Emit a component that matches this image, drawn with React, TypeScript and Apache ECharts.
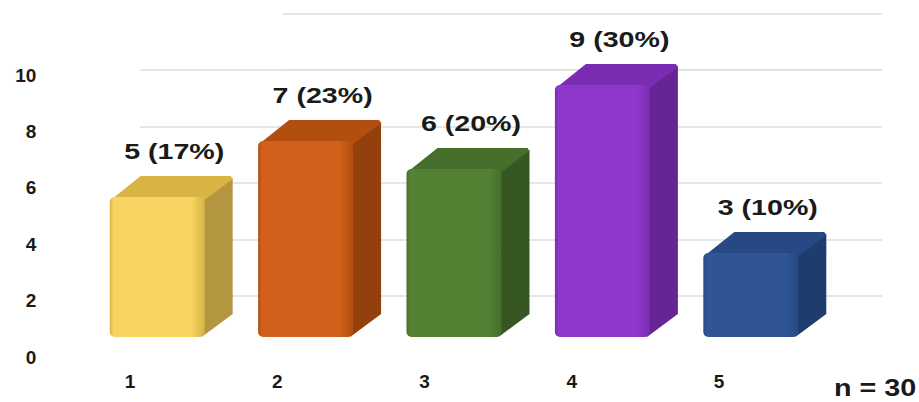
import React, { useEffect, useRef } from "react";
import * as echarts from "echarts";

const categories = ["1", "2", "3", "4", "5"];
const counts = [5, 7, 6, 9, 3];
const percents = [17, 23, 20, 30, 10];
const totalLabel = "n = 30";

const barColors = [
  { front: "#F8D462", top: "#D8B444", side: "#B59640" },
  { front: "#D0601A", top: "#B24E10", side: "#94400C" },
  { front: "#548235", top: "#466F2B", side: "#375722" },
  { front: "#8E39CC", top: "#7A2DB2", side: "#672495" },
  { front: "#2F5597", top: "#264985", side: "#1F3C6F" },
];

const DX = 28;
const DY = -21;
const FONT = '"Liberation Sans", Arial, sans-serif';

export default function App() {
  const ref = useRef<HTMLDivElement>(null);

  useEffect(() => {
    if (!ref.current) return;
    const chart = echarts.init(ref.current, undefined, { renderer: "svg" });

    const data = counts.map((v, i) => [i, v, percents[i]]);

    const renderItem = (params: any, api: any) => {
      const idx = api.value(0);
      const val = api.value(1);
      const pct = api.value(2);
      const top = api.coord([idx, val]);
      const base = api.coord([idx, 0]);
      const band = api.size([1, 0])[0];
      const w = band * 0.64;
      const x0 = top[0] - w / 2;
      const x1 = top[0] + w / 2;
      const yT = top[1];
      const yB = base[1];
      const c = barColors[idx];
      return {
        type: "group",
        children: [
          {
            type: "polygon",
            shape: {
              points: [
                [x1 - 3, yT + 2],
                [x1 + DX, yT + DY + 2],
                [x1 + DX, yB + DY - 2],
                [x1 - 3, yB],
              ],
            },
            style: { fill: c.side },
          },
          {
            type: "polygon",
            shape: {
              points: [
                [x0 + 1, yT + 3],
                [x0 + DX + 3, yT + DY],
                [x1 + DX - 2, yT + DY],
                [x1 + DX, yT + DY + 3],
                [x1, yT + 3],
              ],
            },
            style: { fill: c.top },
          },
          {
            type: "rect",
            shape: { x: x0, y: yT, width: w, height: yB - yT, r: 5 },
            style: {
              fill: {
                type: "linear",
                x: 0,
                y: 0,
                x2: 1,
                y2: 0,
                colorStops: [
                  { offset: 0, color: c.top },
                  { offset: 0.04, color: c.front },
                  { offset: 0.86, color: c.front },
                  { offset: 1, color: c.top },
                ],
              },
            },
          },
          {
            type: "text",
            x: top[0] + 17,
            y: yT + DY - 25,
            scaleX: 1.3,
            style: {
              text: `${val} (${pct}%)`,
              font: `bold 22px ${FONT}`,
              fill: "#1a1a1a",
              align: "center",
              verticalAlign: "middle",
            },
          },
        ],
      };
    };

    const gridLine = { show: true, lineStyle: { color: "#dedede", width: 1.5 } };

    chart.setOption({
      animation: false,
      grid: [
        { left: 83, right: 94, top: 1, bottom: 65 },
        { left: 56.4, right: 126.4, top: 75, bottom: 45 },
        { left: 140, right: 37, top: 70, bottom: 106 },
        { left: 283, right: 37, top: 13.5, bottom: 332 },
      ],
      xAxis: [
        { type: "category", gridIndex: 0, data: categories, show: false },
        {
          type: "category",
          gridIndex: 1,
          data: categories,
          axisLine: { show: false },
          axisTick: { show: false },
          axisLabel: {
            margin: 15,
            color: "#1a1a1a",
            fontFamily: FONT,
            fontWeight: "bold",
            fontSize: 19,
          },
        },
        { type: "value", gridIndex: 2, show: false, min: 0, max: 1 },
        { type: "value", gridIndex: 3, show: false, min: 0, max: 1 },
      ],
      yAxis: [
        { type: "value", gridIndex: 0, min: 0, max: 12, show: false, splitLine: { show: false } },
        {
          type: "value",
          gridIndex: 1,
          min: 0,
          max: 10,
          interval: 2,
          axisLine: { show: false },
          axisTick: { show: false },
          splitLine: { show: false },
          axisLabel: {
            margin: 20,
            color: "#1a1a1a",
            fontFamily: FONT,
            fontWeight: "bold",
            fontSize: 19,
          },
        },
        {
          type: "value",
          gridIndex: 2,
          min: 2,
          max: 10,
          interval: 2,
          axisLine: { show: false },
          axisTick: { show: false },
          axisLabel: { show: false },
          splitLine: gridLine,
        },
        {
          type: "value",
          gridIndex: 3,
          min: 10,
          max: 12,
          interval: 2,
          axisLine: { show: false },
          axisTick: { show: false },
          axisLabel: { show: false },
          splitLine: gridLine,
        },
      ],
      graphic: [
        {
          type: "text",
          left: 834,
          top: 377,
          scaleX: 1.25,
          style: {
            text: totalLabel,
            font: `bold 23px ${FONT}`,
            fill: "#1a1a1a",
          },
        },
      ],
      series: [
        {
          type: "custom",
          xAxisIndex: 0,
          yAxisIndex: 0,
          renderItem,
          clip: false,
          encode: { x: 0, y: 1 },
          data,
        },
      ],
    });

    return () => chart.dispose();
  }, []);

  return <div ref={ref} style={{ width: 919, height: 402, position: "absolute", left: 0, top: 0 }} />;
}
